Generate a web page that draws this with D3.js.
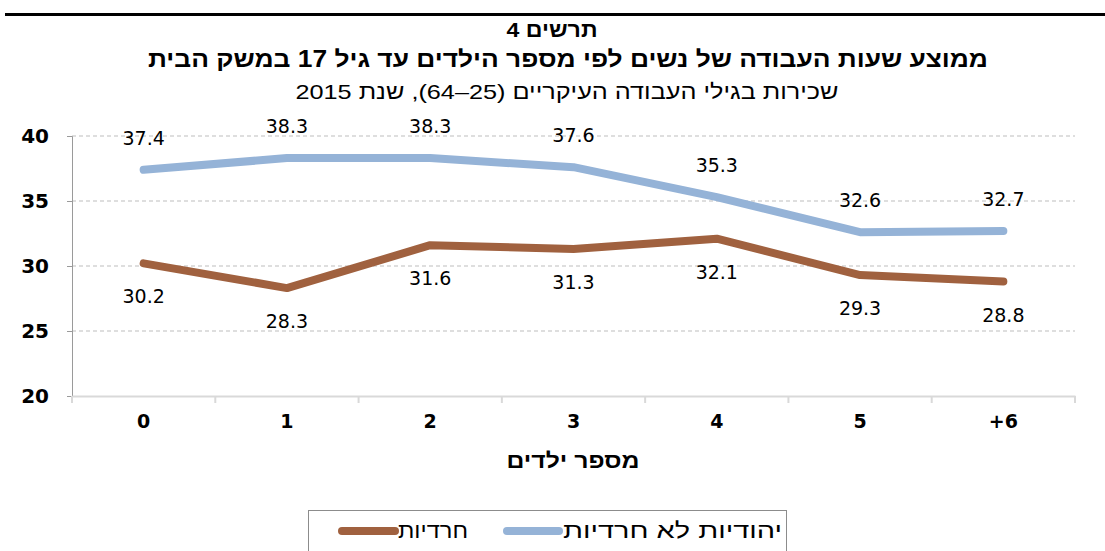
<!DOCTYPE html>
<html>
<head>
<meta charset="utf-8">
<script src="https://cdn.jsdelivr.net/npm/d3@7"></script>
<style>
  body { margin: 0; background: #fff; }
  svg { display: block; }
</style>
</head>
<body>
<svg id="chart" width="1105" height="551"></svg>
<script>
// chart data
var categories = ["0", "1", "2", "3", "4", "5", "+6"];
var nonHaredi = [37.4, 38.3, 38.3, 37.6, 35.3, 32.6, 32.7];
var haredi = [30.2, 28.3, 31.6, 31.3, 32.1, 29.3, 28.8];
var seriesNames = ["יהודיות לא חרדיות", "חרדיות"];
var yTicks = [20, 25, 30, 35, 40];

var blue = "#95b3d7", brown = "#a0613f";
var svg = d3.select("#chart");

// top rule
svg.append("rect").attr("x", 5).attr("y", 13).attr("width", 1100).attr("height", 3).attr("fill", "#000");

// titles (stretched to the widths of the original)
var titleFont = "'Liberation Sans', sans-serif";
function title(txt, xPos, yPos, size, bold, width) {
  svg.append("text").attr("x", xPos).attr("y", yPos).attr("text-anchor", "middle")
    .style("font-family", titleFont).style("font-weight", bold ? "bold" : "normal")
    .style("font-size", size + "px").attr("direction", "rtl")
    .attr("textLength", width).attr("lengthAdjust", "spacingAndGlyphs")
    .text(txt);
}
title("תרשים 4", 552, 37, 21, true, 91);
title("ממוצע שעות העבודה של נשים לפי מספר הילדים עד גיל 17 במשק הבית", 568, 67, 23, true, 840);
title("שכירות בגילי העבודה העיקריים (25–64), שנת 2015", 567, 99, 21, false, 543);

// scales
var x = d3.scaleBand().domain(categories).range([72, 1075]);
var y = d3.scaleLinear().domain([20, 40]).range([396, 136]);
function cx(c) { return x(c) + x.bandwidth() / 2; }

// gridlines
svg.selectAll(".grid").data(yTicks.slice(1)).enter().append("line")
  .attr("x1", 72).attr("x2", 1075)
  .attr("y1", function(d) { return y(d); }).attr("y2", function(d) { return y(d); })
  .attr("stroke", "#bdbdbd").attr("stroke-dasharray", "4,3").attr("stroke-width", 1);

// y axis
var yAxis = svg.append("g").attr("transform", "translate(72,0)")
  .call(d3.axisLeft(y).tickValues(yTicks).tickSize(5).tickPadding(18));
yAxis.select(".domain").attr("stroke", "#9a9a9a");
yAxis.selectAll(".tick line").attr("stroke", "#9a9a9a");
yAxis.selectAll(".tick text").style("font-family", "'DejaVu Sans', sans-serif")
  .style("font-weight", "bold").style("font-size", "20px").attr("fill", "#000");

// x axis
var xAxis = svg.append("g").attr("transform", "translate(0,396)")
  .call(d3.axisBottom(x).tickSize(0).tickPadding(19));
xAxis.select(".domain").attr("stroke", "#d9d9d9").attr("stroke-width", 2);
xAxis.selectAll(".tick text").style("font-family", "'DejaVu Sans', sans-serif")
  .style("font-weight", "bold").style("font-size", "19px").attr("fill", "#000");
svg.selectAll(".xtick").data(d3.range(categories.length + 1)).enter().append("line")
  .attr("x1", function(i) { return x.range()[0] + i * x.step(); })
  .attr("x2", function(i) { return x.range()[0] + i * x.step(); })
  .attr("y1", 396).attr("y2", 403).attr("stroke", "#d9d9d9").attr("stroke-width", 2);

svg.append("text").attr("x", 573).attr("y", 468).attr("text-anchor", "middle")
  .style("font-family", "'Liberation Sans', sans-serif").style("font-weight", "bold").style("font-size", "21px")
  .attr("direction", "rtl").attr("textLength", 133).attr("lengthAdjust", "spacingAndGlyphs")
  .text("מספר ילדים");

// lines
var line = d3.line().x(function(d, i) { return cx(categories[i]); }).y(function(d) { return y(d); });
[[haredi, brown], [nonHaredi, blue]].forEach(function(s) {
  svg.append("path").datum(s[0]).attr("d", line).attr("fill", "none")
    .attr("stroke", s[1]).attr("stroke-width", 8).attr("stroke-linecap", "round").attr("stroke-linejoin", "round");
});

// value labels
function drawLabels(data, offset) {
  svg.selectAll(null).data(data).enter().append("text")
    .attr("x", function(d, i) { return cx(categories[i]); })
    .attr("y", function(d) { return y(d) + offset; })
    .attr("text-anchor", "middle")
    .style("font-family", "'DejaVu Sans', sans-serif").style("font-size", "19px")
    .text(function(d) { return d.toFixed(1); });
}
drawLabels(nonHaredi, -25);
drawLabels(haredi, 40);

// legend
svg.append("rect").attr("x", 308.5).attr("y", 510.5).attr("width", 478).attr("height", 60)
  .attr("fill", "#fff").attr("stroke", "#8c8c8c");
var legendFont = "'Liberation Sans', sans-serif";
svg.append("text").attr("x", 782).attr("y", 538).attr("text-anchor", "start").attr("direction", "rtl")
  .style("font-family", legendFont).style("font-size", "22px")
  .attr("textLength", 219).attr("lengthAdjust", "spacingAndGlyphs").text(seriesNames[0]);
svg.append("line").attr("x1", 507).attr("x2", 559).attr("y1", 531).attr("y2", 531)
  .attr("stroke", blue).attr("stroke-width", 8).attr("stroke-linecap", "round");
svg.append("text").attr("x", 468).attr("y", 538).attr("text-anchor", "start").attr("direction", "rtl")
  .style("font-family", legendFont).style("font-size", "22px")
  .attr("textLength", 70).attr("lengthAdjust", "spacingAndGlyphs").text(seriesNames[1]);
svg.append("line").attr("x1", 342).attr("x2", 395).attr("y1", 531).attr("y2", 531)
  .attr("stroke", brown).attr("stroke-width", 8).attr("stroke-linecap", "round");
</script>
</body>
</html>
